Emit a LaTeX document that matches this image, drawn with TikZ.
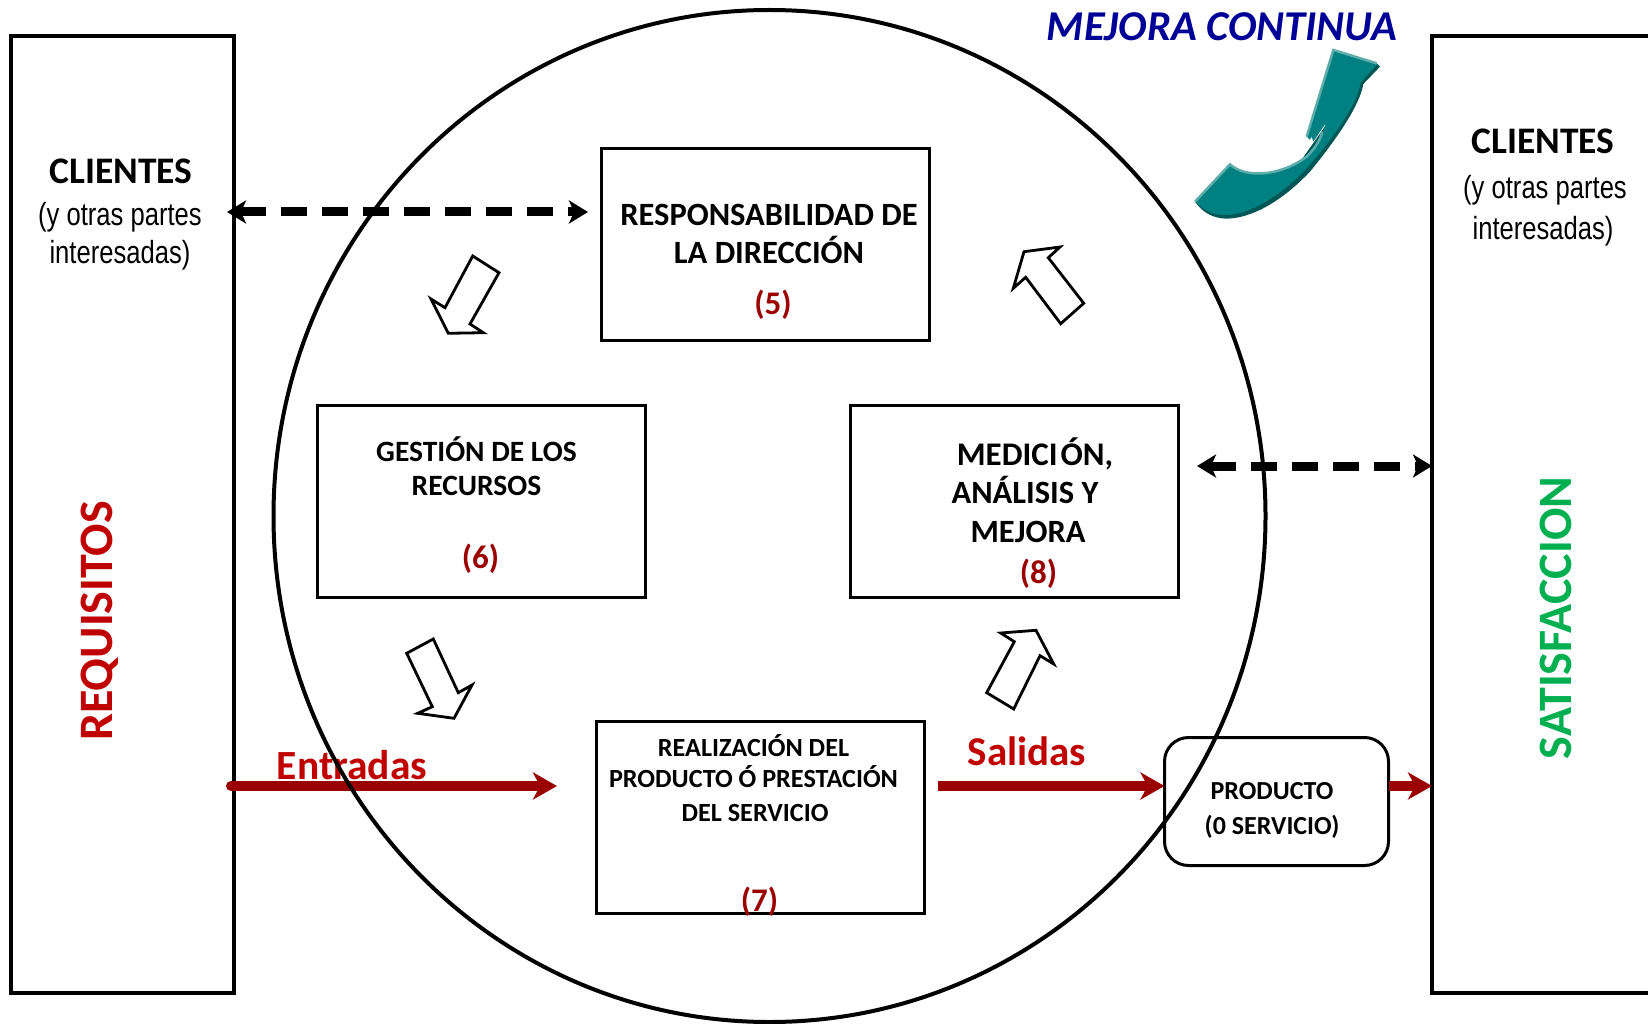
\documentclass[tikz,border=0pt]{standalone}
\usepackage{fontspec}
\setmainfont{Carlito}
\newfontfamily\narrowf[FakeStretch=0.8]{Liberation Sans}
\usetikzlibrary{arrows.meta,shapes.geometric}
\definecolor{dred}{RGB}{155,0,0}
\definecolor{lred}{RGB}{192,0,0}
\definecolor{mblue}{RGB}{0,0,150}
\definecolor{teal1}{RGB}{0,128,128}
\definecolor{teal2}{RGB}{95,172,172}
\definecolor{teal3}{RGB}{0,85,85}
\definecolor{sgreen}{RGB}{0,176,80}
\tikzset{
 frame/.style={draw=black,line width=4.5pt,fill=white,rectangle,inner sep=0pt,outer sep=0pt,anchor=north west},
 procbox/.style={draw=black,line width=3pt,rectangle,inner sep=0pt,outer sep=0pt,anchor=north west,minimum width=328pt,minimum height=192pt},
 hollow/.style={draw=black,line width=2.8pt,fill=white,line join=miter},
 dasharrow/.style={line width=9pt,dash pattern=on 26pt off 15pt,{Stealth[length=19pt,width=23pt,inset=5pt]}-{Stealth[length=19pt,width=23pt,inset=5pt]}},
 redarrow/.style={draw=dred,line width=10pt,-{Stealth[length=24pt,width=27pt,inset=7pt]}},
 btxt/.style={font=\fontsize{#1}{#1}\selectfont\bfseries,inner sep=0pt},
 numtxt/.style={font=\fontsize{33}{33}\selectfont\bfseries,text=dred,inner sep=0pt},
 thintxt/.style={font=\fontsize{32}{32}\selectfont\narrowf,inner sep=0pt}
}
\begin{document}
\begin{tikzpicture}[x=1pt,y=-1pt]
\useasboundingbox (0,0) rectangle (1648,1024);
\fill[white] (0,0) rectangle (1648,1024);
% side columns
\node[frame,minimum width=223pt,minimum height=957pt] (lbox) at (11,36) {};
\node[frame,minimum width=260pt,minimum height=957pt] (rbox) at (1432,36) {};
% process boxes
\node[procbox] (resp) at (601.5,148.5) {};
\node[procbox] (gest) at (317.5,405) {};
\node[procbox] (medi) at (850.5,405) {};
\node[procbox] (real) at (596.5,721.5) {};
\node[draw=black,line width=3pt,rectangle,rounded corners=24pt,inner sep=0pt,outer sep=0pt,anchor=north west,minimum width=224pt,minimum height=128pt] (prod) at (1164.5,737.5) {};
% free ends of connectors
\coordinate (dLa) at (227,212);
\coordinate (dLb) at (588,212);
\coordinate (dRa) at (1197,466);
\coordinate (dRb) at (1432,466);
\coordinate (eA) at (231,786);
\coordinate (eB) at (557,786);
\coordinate (sA) at (938,786);
\coordinate (pW) at (prod.west |- eA);
\coordinate (pE) at (prod.east |- eA);
\coordinate (rW) at (rbox.west |- eA);
% labels behind the circle
\node[btxt=41.5,text=lred] (entr) at (352,765) {Entradas};
\node[btxt=41,text=lred] (sali) at (1027,751.5) {Salidas};
% connectors
\draw[redarrow,line cap=round] (eA) -- (eB);
\draw[redarrow] (sA) -- (pW);
\draw[redarrow] (pE) -- (rW);
\draw[dasharrow] (dLa) -- (dLb);
\draw[dasharrow] (dRa) -- (dRb);
% circle
\node[draw=black,line width=4pt,ellipse,inner sep=0pt,outer sep=0pt,minimum width=992pt,minimum height=1012pt] (circ) at (769.5,516) {};
% hollow block arrows
\draw[hollow] (472.7,256) -- (499,272.7) -- (470,324) -- (483.3,332.7) -- (448.3,333.3) -- (431,299) -- (445,307.7) -- cycle;
\draw[hollow] (1024,251.7) -- (1060,247) -- (1048.3,257.7) -- (1083.7,303.3) -- (1060.7,323.7) -- (1025.7,277.3) -- (1013.3,288.3) -- cycle;
\draw[hollow] (433.3,639) -- (406.7,653.3) -- (432.3,706.7) -- (417.7,713.3) -- (454,718.3) -- (472,685) -- (458.3,692.7) -- cycle;
\draw[hollow] (1036,630.3) -- (1000.7,633) -- (1014.3,641.7) -- (986.7,692.7) -- (1013.7,709) -- (1040,655.7) -- (1053.7,664) -- cycle;
% texts
\node[btxt=37.5] (cl1) at (121,171) {CLIENTES};
\node[thintxt] (cl2) at (120,217) {(y otras partes};
\node[thintxt] (cl3) at (120,255) {interesadas)};
\node[btxt=37.5] (cr1) at (1543,141) {CLIENTES};
\node[thintxt] (cr2) at (1545,190.5) {(y otras partes};
\node[thintxt] (cr3) at (1543,231) {interesadas)};
\node[btxt=48,text=lred,rotate=90] (req) at (100,621) {REQUISITOS};
\node[btxt=48,text=sgreen,rotate=90] (sat) at (1556,618) {SATISFACCION};
\node[font=\fontsize{42.5}{42.5}\selectfont\bfseries\itshape,text=mblue,inner sep=0pt] (mej) at (1222,27) {MEJORA CONTINUA};
\node[btxt=32.5] (t51) at (769,214.5) {RESPONSABILIDAD DE};
\node[btxt=32.5] (t52) at (769,250) {LA DIRECCIÓN};
\node[numtxt] (t5) at (773,305) {(5)};
\node[btxt=29.5] (t61) at (476.5,449.5) {GESTIÓN DE LOS};
\node[btxt=29.5] (t62) at (476.5,486) {RECURSOS};
\node[numtxt] (t6) at (480.5,559) {(6)};
\node[btxt=33] (t81) at (1035,454) {MEDICI\kern3pt ÓN,};
\node[btxt=32.5] (t82) at (1025,490) {ANÁLISIS Y};
\node[btxt=32.5] (t83) at (1028,531.5) {MEJORA};
\node[numtxt] (t8) at (1038.5,574) {(8)};
\node[btxt=26.2] (t71) at (753.5,746) {REALIZACIÓN DEL};
\node[btxt=26.2] (t72) at (753.5,777) {PRODUCTO Ó PRESTACIÓN};
\node[btxt=26.2] (t73) at (755,813) {DEL SERVICIO};
\node[numtxt] (t7) at (759.5,902) {(7)};
\node[btxt=26] (p1) at (1272,791) {PRODUCTO};
\node[btxt=26] (p2) at (1272,827) {(0 SERVICIO)};
% teal curved arrow
\begin{scope}[shift={(1150,0)},x=0.3333pt,y=-0.3333pt]
\fill[teal3] (680,190) -- (690,200) -- (640,252) .. controls (632,300) and (590,380) .. (480,515) .. controls (390,610) and (300,655) .. (230,656) .. controls (190,655) and (160,640) .. (135,605) -- (230,600) -- (440,500) -- (560,330) -- (620,220) -- cycle;
\fill[teal1] (550,150) -- (682,192) -- (632,248) .. controls (625,295) and (580,380) .. (470,505) .. controls (380,600) and (290,645) .. (225,645) .. controls (185,645) and (160,630) .. (135,605) -- (240,493) .. controls (285,535) and (390,530) .. (470,470) .. controls (490,450) and (515,420) .. (527,370) -- (490,425) -- (485,410) -- (480,420) -- (470,410) -- cycle;
\draw[teal2,line width=2.5pt] (470,410) -- (550,150) -- (680,190);
\draw[teal2,line width=2.5pt] (135,605) -- (240,493) .. controls (285,535) and (390,530) .. (470,470) .. controls (490,450) and (510,425) .. (517,395);
\end{scope}
\end{tikzpicture}
\end{document}
